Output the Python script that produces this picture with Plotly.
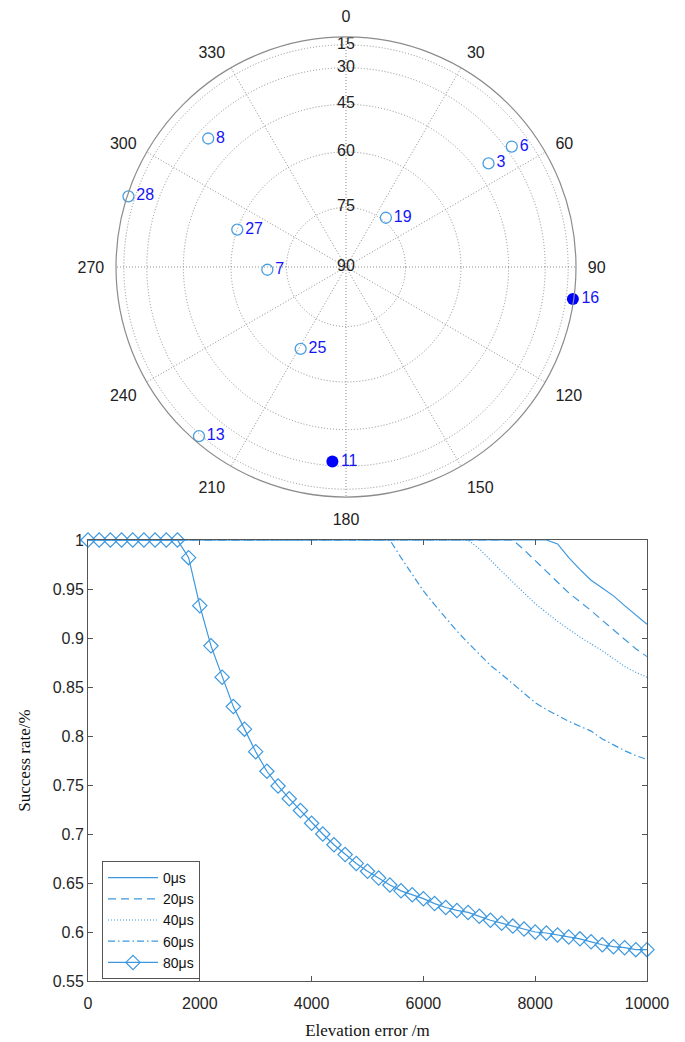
import numpy as np
import plotly.graph_objects as go

# ---------------- Sky plot data ----------------
prn_open = ["8", "6", "3", "28", "19", "27", "7", "25", "13"]
az_open = [313, 54, 54, 288, 39, 289, 268, 209, 221]
el_open = [35, 27, 40, 6, 74, 60, 70, 66, 13]

prn_fill = ["16", "11"]
az_fill = [98, 184]
el_fill = [5, 32]

az_ticks = [0, 30, 60, 90, 120, 150, 180, 210, 240, 270, 300, 330]
el_ticks = [15, 30, 45, 60, 75, 90]

# ---------------- Success-rate data ----------------
x_ticks = [0, 2000, 4000, 6000, 8000, 10000]
y_ticks = [0.55, 0.6, 0.65, 0.7, 0.75, 0.8, 0.85, 0.9, 0.95, 1]
y_ticktext = ["0.55", "0.6", "0.65", "0.7", "0.75", "0.8", "0.85", "0.9", "0.95", "1"]

x_0 = [0, 8200, 8400, 8600, 8800, 9000, 9200, 9400, 9600, 9800, 10000]
y_0 = [1, 1, 0.996, 0.982, 0.970, 0.959, 0.951, 0.943, 0.933, 0.923, 0.914]

x_20 = [0, 7600, 7800, 8000, 8200, 8400, 8600, 8800, 9000, 9200, 9400, 9600, 9800, 10000]
y_20 = [1, 1, 0.990, 0.979, 0.968, 0.958, 0.946, 0.937, 0.928, 0.918, 0.908, 0.898, 0.889, 0.881]

x_40 = [0, 6800, 7000, 7200, 7400, 7600, 7800, 8000, 8200, 8400, 8600, 8800, 9000, 9200, 9400, 9600, 9800, 10000]
y_40 = [1, 1, 0.991, 0.979, 0.968, 0.957, 0.946, 0.935, 0.926, 0.917, 0.909, 0.901, 0.894, 0.887, 0.879, 0.871, 0.865, 0.860]

x_60 = [0, 5400, 5600, 5800, 6000, 6200, 6400, 6600, 6800, 7000, 7200, 7400, 7600, 7800, 8000,
        8200, 8400, 8600, 8800, 9000, 9200, 9400, 9600, 9800, 10000]
y_60 = [1, 1, 0.982, 0.965, 0.948, 0.934, 0.920, 0.907, 0.895, 0.883, 0.872, 0.863, 0.853, 0.843, 0.834,
        0.827, 0.821, 0.815, 0.810, 0.805, 0.797, 0.791, 0.785, 0.780, 0.776]

x_80 = [0, 200, 400, 600, 800, 1000, 1200, 1400, 1600, 1800, 2000, 2200, 2400, 2600, 2800, 3000,
        3200, 3400, 3600, 3800, 4000, 4200, 4400, 4600, 4800, 5000, 5200, 5400, 5600, 5800, 6000,
        6200, 6400, 6600, 6800, 7000, 7200, 7400, 7600, 7800, 8000, 8200, 8400, 8600, 8800, 9000,
        9200, 9400, 9600, 9800, 10000]
y_80 = [1, 1, 1, 1, 1, 1, 1, 1, 1, 0.982, 0.933, 0.892, 0.860, 0.830, 0.807, 0.784,
        0.764, 0.749, 0.736, 0.724, 0.711, 0.700, 0.689, 0.679, 0.670, 0.662, 0.655, 0.648, 0.642, 0.638, 0.634,
        0.629, 0.625, 0.622, 0.620, 0.616, 0.612, 0.609, 0.606, 0.603, 0.600, 0.599, 0.597, 0.595, 0.593, 0.590,
        0.587, 0.585, 0.584, 0.582, 0.582]

series = [
    ("0\u03bcs", x_0, y_0, "solid", False),
    ("20\u03bcs", x_20, y_20, "8px,5px", False),
    ("40\u03bcs", x_40, y_40, "1px,2px", False),
    ("60\u03bcs", x_60, y_60, "7px,3px,1.5px,3px", False),
    ("80\u03bcs", x_80, y_80, "solid", True),
]

LINE_C = "#3d98de"
SAT_C = "#4a9fe0"
LBL_C = "#1515f5"
GRID_C = "#8e8e8e"
SANS = "Liberation Sans, Arial, sans-serif"
SERIF = "Liberation Serif, Times New Roman, serif"

W, H = 685, 1042
OFF = 8  # page body margin offset
fig = go.Figure()

# ----- sky plot -----
fig.add_trace(go.Scatterpolar(
    r=np.cos(np.radians(el_open)), theta=az_open, text=prn_open,
    mode="markers+text", textposition="middle right",
    textfont=dict(family=SANS, size=16, color=LBL_C),
    marker=dict(symbol="circle-open", size=11, color=SAT_C, line=dict(width=1.3, color=SAT_C)),
    showlegend=False, subplot="polar", cliponaxis=False,
))
fig.add_trace(go.Scatterpolar(
    r=np.cos(np.radians(el_fill)), theta=az_fill, text=prn_fill,
    mode="markers+text", textposition="middle right",
    textfont=dict(family=SANS, size=16, color=LBL_C),
    marker=dict(symbol="circle", size=12, color="#0000ff"),
    showlegend=False, subplot="polar", cliponaxis=False,
))
# radial (elevation) labels along the 0-degree spoke
fig.add_trace(go.Scatterpolar(
    r=np.cos(np.radians(el_ticks)), theta=[0] * len(el_ticks), text=[str(e) for e in el_ticks],
    mode="text", textposition="middle center",
    textfont=dict(family=SANS, size=16, color="#222222"),
    showlegend=False, subplot="polar", cliponaxis=False, hoverinfo="skip",
))

# ----- success rate plot -----
for name, xs, ys, dash, mk in series:
    fig.add_trace(go.Scatter(
        x=xs, y=ys, name=name, mode="lines+markers" if mk else "lines",
        line=dict(color=LINE_C, width=1.2, dash=dash),
        marker=dict(symbol="diamond-open", size=11, color=LINE_C, line=dict(width=1.2, color=LINE_C)) if mk else None,
        xaxis="x", yaxis="y", cliponaxis=False,
    ))

cx, cy, R = 346 - OFF, 266 - OFF + 1, 230
fig.update_layout(
    width=W, height=H,
    margin=dict(l=0, r=0, t=0, b=0, pad=0, autoexpand=False),
    paper_bgcolor="white", plot_bgcolor="white",
    font=dict(family=SANS, size=16, color="#262626"),
    polar=dict(
        domain=dict(x=[(cx - R) / W, (cx + R) / W], y=[1 - (cy + R) / H, 1 - (cy - R) / H]),
        bgcolor="white",
        angularaxis=dict(
            rotation=90, direction="clockwise",
            tickmode="array", tickvals=az_ticks, ticktext=[str(a) for a in az_ticks],
            tickfont=dict(family=SANS, size=16, color="#222222"),
            ticks="outside", ticklen=8, tickcolor="rgba(0,0,0,0)",
            showline=True, linecolor="#8c8c8c", linewidth=1.2,
            showgrid=True, gridcolor=GRID_C, gridwidth=1, griddash="1px,2px",
        ),
        radialaxis=dict(
            range=[0, 1], tickmode="array", tickvals=np.cos(np.radians(el_ticks)),
            showticklabels=False, ticks="", showline=False,
            showgrid=True, gridcolor=GRID_C, gridwidth=1, griddash="1px,2px",
        ),
    ),
    xaxis=dict(
        domain=[(88 - OFF) / W, (647 - OFF) / W], range=[0, 10000], automargin=False,
        tickmode="array", tickvals=x_ticks, ticktext=[str(v) for v in x_ticks],
        ticks="inside", ticklen=5, tickcolor="#555555",
        showline=True, linecolor="#555555", linewidth=1, mirror="ticks",
        showgrid=False, zeroline=False, ticklabelstandoff=8,
        tickfont=dict(family=SANS, size=16, color="#262626"),
        title=dict(text="Elevation error /m", font=dict(family=SERIF, size=17, color="#111111"), standoff=12),
    ),
    yaxis=dict(
        domain=[1 - (981 - OFF) / H, 1 - (540 - OFF) / H], range=[0.55, 1], automargin=False,
        tickmode="array", tickvals=y_ticks, ticktext=y_ticktext,
        ticks="inside", ticklen=5, tickcolor="#555555",
        showline=True, linecolor="#555555", linewidth=1, mirror="ticks",
        showgrid=False, zeroline=False,
        tickfont=dict(family=SANS, size=16, color="#262626"),
        title=dict(text="Success rate/%", font=dict(family=SERIF, size=17, color="#111111"), standoff=17),
    ),
    legend=dict(
        x=(102 - OFF) / W, y=1 - (861 - OFF) / H, xanchor="left", yanchor="top",
        bgcolor="white", bordercolor="#555555", borderwidth=1,
        font=dict(family=SANS, size=14, color="#111111"),
        tracegroupgap=0, itemwidth=50,
    ),
)

fig.write_html("out.html")
